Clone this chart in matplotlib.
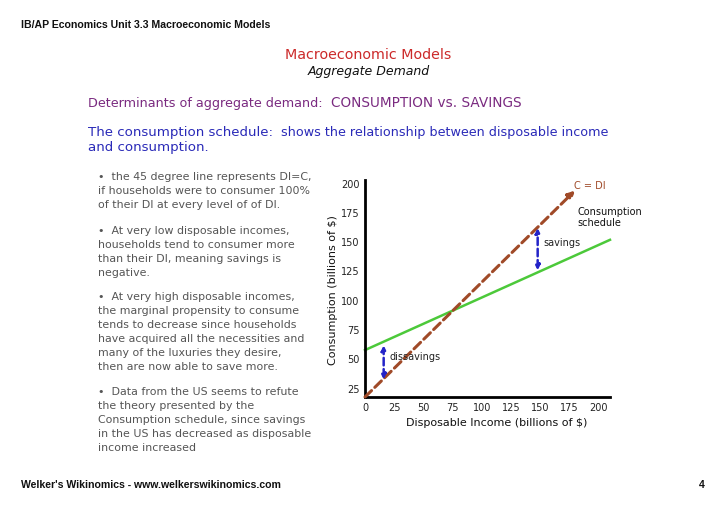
import matplotlib.pyplot as plt
import numpy as np

# data
x_ticks = [0, 25, 50, 75, 100, 125, 150, 175, 200]
y_ticks = [25, 50, 75, 100, 125, 150, 175, 200]
cdi_x = [0, 180]          # 45 degree line (C = DI)
cdi_y = [18, 194]
cons_x = [0, 210]         # consumption schedule
cons_y = [58, 152]
sav_x, sav_y = 148, [162, 126]      # savings gap
dis_x, dis_y = 16, [62, 33]         # dissavings gap

bullets = [
    ["\u2022  the 45 degree line represents DI=C,",
     "if households were to consumer 100%",
     "of their DI at every level of of DI."],
    ["\u2022  At very low disposable incomes,",
     "households tend to consumer more",
     "than their DI, meaning savings is",
     "negative."],
    ["\u2022  At very high disposable incomes,",
     "the marginal propensity to consume",
     "tends to decrease since households",
     "have acquired all the necessities and",
     "many of the luxuries they desire,",
     "then are now able to save more."],
    ["\u2022  Data from the US seems to refute",
     "the theory presented by the",
     "Consumption schedule, since savings",
     "in the US has decreased as disposable",
     "income increased"],
]
bullet_y = [177, 231, 297, 392]

W, H = 728, 515
fig = plt.figure(figsize=(W / 100, H / 100), dpi=100)
fig.patch.set_facecolor('white')

def px(x, y):
    return x / W, 1 - y / H

body = 'DejaVu Sans'

# header / footer
fig.text(*px(21, 25), 'IB/AP Economics Unit 3.3 Macroeconomic Models', fontsize=7.6,
         fontweight='bold', family='Liberation Sans', va='center', color='#111111')
fig.text(*px(21, 485), "Welker's Wikinomics - www.welkerswikinomics.com", fontsize=7.6,
         fontweight='bold', family='Liberation Sans', va='center', color='#111111')
fig.text(*px(705, 485), '4', fontsize=7.6, fontweight='bold', family='Liberation Sans',
         va='center', ha='right', color='#111111')

# titles
fig.text(*px(368, 55), 'Macroeconomic Models', fontsize=10.3, color='#cc2a2a',
         family=body, ha='center', va='center')
fig.text(*px(369, 71), 'Aggregate Demand', fontsize=9, style='italic', color='#111111',
         family=body, ha='center', va='center')

fig.text(*px(88, 103), 'Determinants of aggregate demand:', fontsize=9.2, color='#7a2a80',
         family=body, va='center')
fig.text(*px(331, 103), 'CONSUMPTION vs. SAVINGS', fontsize=9.8, color='#7a2a80',
         family=body, va='center')

fig.text(*px(88, 133), 'The consumption schedule:', fontsize=9.6, color='#2a2ab8',
         family=body, va='center')
fig.text(*px(281, 133), 'shows the relationship between disposable income', fontsize=9.2,
         color='#2a2ab8', family=body, va='center')
fig.text(*px(88, 148), 'and consumption.', fontsize=9.6, color='#2a2ab8',
         family=body, va='center')

# bullet text
for lines, y0 in zip(bullets, bullet_y):
    for i, line in enumerate(lines):
        fig.text(*px(98, y0 + i * 14), line, fontsize=7.9, color='#555555',
                 family=body, va='center')

# chart
ax = fig.add_axes([365 / W, 1 - 397 / H, 245 / W, 217 / H])
ax.set_xlim(0, 210)
ax.set_ylim(18, 203)
for s in ['top', 'right']:
    ax.spines[s].set_visible(False)
for s in ['left', 'bottom']:
    ax.spines[s].set_linewidth(2)
ax.set_xticks(x_ticks)
ax.set_yticks(y_ticks)
ax.tick_params(length=0, labelsize=7, pad=4, colors='#222222')

ax.plot(cons_x, cons_y, color='#4cc93a', linewidth=1.8, clip_on=False)
ax.annotate('', xy=(cdi_x[1], cdi_y[1]), xytext=(cdi_x[0], cdi_y[0]),
            arrowprops=dict(arrowstyle='-|>', color='#a04a28', lw=2.2,
                            linestyle=(0, (3, 1.5)), mutation_scale=10, shrinkA=0, shrinkB=0))

for xx, yy in [(sav_x, sav_y), (dis_x, dis_y)]:
    ax.annotate('', xy=(xx, yy[0]), xytext=(xx, yy[1]),
                arrowprops=dict(arrowstyle='<|-|>', color='#2323c8', lw=1.8,
                                linestyle=(0, (3, 1.5)), mutation_scale=7, shrinkA=0, shrinkB=0))

ax.text(153, 149, 'savings', fontsize=7, va='center', color='#222222')
ax.text(21, 52, 'dissavings', fontsize=7, va='center', color='#222222')
ax.text(179, 198, 'C = DI', fontsize=7, va='center', color='#a04a28')
ax.text(182, 171, 'Consumption\nschedule', fontsize=7, va='center', color='#111111',
        linespacing=1.1)

fig.text(*px(333, 290), 'Consumption (billions of $)', rotation=90, fontsize=8,
         family=body, ha='center', va='center', color='#111111')
fig.text(*px(497, 423), 'Disposable Income (billions of $)', fontsize=8,
         family=body, ha='center', va='center', color='#111111')

fig.savefig('out.png', dpi=100)
